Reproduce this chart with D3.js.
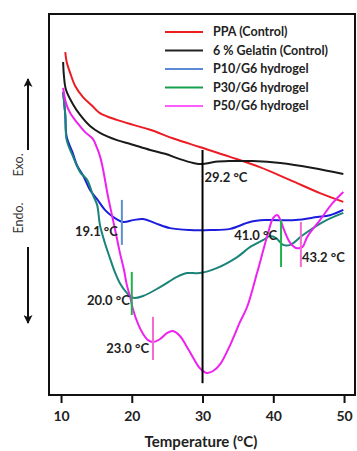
<!DOCTYPE html>
<html lang="en">
<head>
<meta charset="UTF-8"/>
<title>DSC curves</title>
<style>
  body { margin: 0; background: #fff; }
  svg text { font-family: Lato, "Liberation Sans", sans-serif; }
</style>
</head>
<body>
<svg id="chart" width="357" height="451"></svg>
<script src="https://d3js.org/d3.v7.min.js"></script>
<script type="text/javascript">

    // series names (legend order)
    var seriesNames = ["PPA (Control)", "6 % Gelatin (Control)", "P10/G6 hydrogel", "P30/G6 hydrogel", "P50/G6 hydrogel"];

    // [temperature degC, heat flow (a.u.)]
    var ppa = [[10.6,90.0],[10.8,87.4],[11.3,84.5],[12.0,81.1],[13.1,78.2],[14.4,75.9],[15.5,74.0],[17.9,72.2],
        [20.2,70.9],[22.6,69.6],[26.1,67.2],[29.6,65.1],[33.9,62.5],[38.1,59.8],[42.4,56.4],[46.6,53.0],[49.9,50.7]];
    var gelatin = [[10.3,87.4],[10.4,84.0],[10.7,80.1],[11.6,76.6],[12.7,73.5],[14.1,70.6],[15.5,68.8],[17.9,66.9],
        [19.8,65.9],[22.6,64.3],[24.7,63.3],[26.8,61.9],[28.7,60.9],[29.9,60.6],[31.8,61.2],[33.9,61.4],[37.1,61.4],
        [41.0,60.9],[45.6,59.6],[49.9,58.0]];
    var p10 = [[10.3,79.5],[10.6,73.5],[10.8,67.7],[11.6,63.8],[12.3,60.1],[13.1,57.7],[14.1,53.8],[15.1,51.4],
        [16.2,48.6],[17.4,46.7],[18.8,45.4],[20.2,45.9],[21.6,46.2],[23.3,45.1],[25.4,43.8],[28.2,43.3],[31.1,43.3],
        [33.9,43.6],[36.7,45.4],[38.8,45.9],[43.1,45.9],[46.2,46.7],[48.0,47.2],[49.9,48.6]];
    var p30 = [[10.3,79.5],[10.6,73.5],[10.8,66.9],[11.6,63.0],[12.7,58.5],[13.7,56.4],[14.5,52.5],[15.1,49.9],
        [15.5,44.6],[16.2,39.9],[16.9,36.0],[17.6,32.3],[18.3,29.4],[19.3,26.8],[20.2,25.5],[21.6,26.0],[24.0,28.3],
        [26.4,31.0],[27.8,32.0],[29.6,32.0],[32.0,33.3],[34.9,36.2],[36.7,38.8],[38.6,40.7],[39.5,41.7],[40.4,41.2],
        [41.4,39.4],[42.4,39.4],[44.2,42.0],[47.0,45.4],[49.9,47.8]];
    var p50 = [[10.3,80.6],[10.7,76.6],[11.3,74.0],[12.3,71.4],[13.4,69.0],[14.5,67.2],[15.1,64.8],[15.5,62.7],
        [15.9,59.6],[16.6,52.5],[17.2,47.2],[17.8,42.0],[18.3,37.5],[18.9,32.8],[19.3,28.9],[19.8,25.5],[20.2,22.3],
        [20.9,18.6],[21.6,16.0],[22.3,14.4],[23.0,13.9],[24.0,14.7],[25.0,16.3],[25.8,16.8],[26.8,15.5],[27.8,12.6],
        [28.7,9.7],[29.6,7.1],[30.6,5.8],[31.5,6.3],[32.5,8.1],[33.9,13.1],[35.3,19.2],[36.3,23.1],[37.7,32.0],
        [38.6,38.1],[39.3,42.8],[40.0,46.5],[40.6,47.2],[41.1,45.4],[41.7,42.5],[42.4,39.9],[43.2,38.6],[44.1,38.8],
        [44.8,41.5],[46.6,45.9],[48.4,50.4],[49.9,53.3]];

    // transition markers: temperature, span (low, high) and label
    var markerTemps = [18.6, 20.0, 23.0, 30.0, 41.1, 43.9];
    var markerSpans = [[39.4,51.2],[21.0,32.3],[9.2,20.5],[3.1,64.3],[33.6,45.9],[33.6,45.4]];
    var markerLabels = ["19.1 °C", "20.0 °C", "23.0 °C", "29.2 °C", "41.0 °C", "43.2 °C"];
    var labelLevels = [42.8, 24.7, 12.1, 57.0, 42.0, 36.2];

    var xTicks = [10, 20, 30, 40, 50];

    var svg = d3.select("#chart");
    var plotLeft = 49, plotRight = 355, plotTop = 14, plotBottom = 395;

    var x = d3.scaleLinear().domain([8.3, 51.55]).range([plotLeft, plotRight]);
    var y = d3.scaleLinear().domain([0, 100]).range([plotBottom, plotTop]);

    var curveColors = ["#ec1c24", "#1a1a1a", "#1c1cdc", "#1b8478", "#ee22ee"];
    var legendColors = ["#e82020", "#222222", "#5b8ad6", "#16a04e", "#ff5cff"];
    var markerColors = ["#5b8fcf", "#22b04a", "#f46ad2", "#000000", "#22b04a", "#f46ad2"];
    var labelAnchors = ["end", "end", "end", "start", "end", "start"];
    var labelDx = [-4, -2, -4, 2, -4, 1];

    var line = d3.line()
        .x(function (d) { return x(d[0]); })
        .y(function (d) { return y(d[1]); })
        .curve(d3.curveCatmullRom.alpha(0.5));

    // curves
    var allSeries = [ppa, gelatin, p10, p30, p50];
    svg.append("g")
        .selectAll("path")
        .data(allSeries)
        .enter().append("path")
        .attr("d", line)
        .attr("fill", "none")
        .attr("stroke", function (d, i) { return curveColors[i]; })
        .attr("stroke-width", 2);

    // markers
    var mk = svg.append("g");
    markerTemps.forEach(function (t, i) {
        mk.append("line")
            .attr("x1", x(t)).attr("x2", x(t))
            .attr("y1", y(markerSpans[i][0])).attr("y2", y(markerSpans[i][1]))
            .attr("stroke", markerColors[i])
            .attr("stroke-width", 2);
        mk.append("text")
            .attr("x", x(t) + labelDx[i])
            .attr("y", y(labelLevels[i]))
            .attr("dy", "0.35em")
            .attr("text-anchor", labelAnchors[i])
            .attr("font-size", 13)
            .attr("font-weight", "bold")
            .attr("fill", "#222")
            .text(markerLabels[i]);
    });

    // frame
    svg.append("rect")
        .attr("x", plotLeft).attr("y", plotTop)
        .attr("width", plotRight - plotLeft).attr("height", plotBottom - plotTop)
        .attr("fill", "none")
        .attr("stroke", "#111")
        .attr("stroke-width", 2);

    // x axis
    var xAxis = svg.append("g")
        .attr("transform", "translate(0," + plotBottom + ")")
        .call(d3.axisBottom(x).tickValues(xTicks).tickSize(8).tickSizeOuter(0));
    xAxis.select(".domain").remove();
    xAxis.selectAll(".tick line").attr("stroke", "#111").attr("stroke-width", 2);
    xAxis.selectAll(".tick text")
        .attr("font-size", 14)
        .attr("font-weight", "bold")
        .attr("fill", "#222")
        .attr("dy", "1.1em")
        .style("font-family", "Lato, 'Liberation Sans', sans-serif");

    svg.append("text")
        .attr("x", 201).attr("y", 442)
        .attr("dy", "0.35em")
        .attr("text-anchor", "middle")
        .attr("font-size", 15)
        .attr("font-weight", "bold")
        .attr("fill", "#222")
        .text("Temperature (°C)");

    // Exo / Endo arrows
    var defs = svg.append("defs");
    defs.append("marker")
        .attr("id", "head")
        .attr("viewBox", "0 0 10 10")
        .attr("refX", 9).attr("refY", 5)
        .attr("markerWidth", 5).attr("markerHeight", 4.5)
        .attr("orient", "auto")
        .append("path")
        .attr("d", "M0,0 L10,5 L0,10 L2.5,5 Z")
        .attr("fill", "#111");

    svg.append("line")
        .attr("x1", 28).attr("x2", 28).attr("y1", 150).attr("y2", 79)
        .attr("stroke", "#111").attr("stroke-width", 2)
        .attr("marker-end", "url(#head)");
    svg.append("line")
        .attr("x1", 28).attr("x2", 28).attr("y1", 247).attr("y2", 323)
        .attr("stroke", "#111").attr("stroke-width", 2)
        .attr("marker-end", "url(#head)");

    svg.append("text")
        .attr("transform", "translate(19,165) rotate(-90)")
        .attr("dy", "0.35em")
        .attr("text-anchor", "middle")
        .attr("font-size", 12.5)
        .attr("fill", "#333")
        .text("Exo.");
    svg.append("text")
        .attr("transform", "translate(19,218) rotate(-90)")
        .attr("dy", "0.35em")
        .attr("text-anchor", "middle")
        .attr("font-size", 12.5)
        .attr("fill", "#333")
        .text("Endo.");

    // legend
    var legend = svg.append("g").attr("transform", "translate(165,32)");
    seriesNames.forEach(function (name, i) {
        var row = legend.append("g").attr("transform", "translate(0," + (i * 18.5) + ")");
        row.append("line")
            .attr("x1", 0).attr("x2", 38)
            .attr("stroke", legendColors[i])
            .attr("stroke-width", 2);
        row.append("text")
            .attr("x", 48)
            .attr("dy", "0.35em")
            .attr("font-size", 12.5)
            .attr("font-weight", "bold")
            .attr("fill", "#222")
            .text(name);
    });
</script>
</body>
</html>
